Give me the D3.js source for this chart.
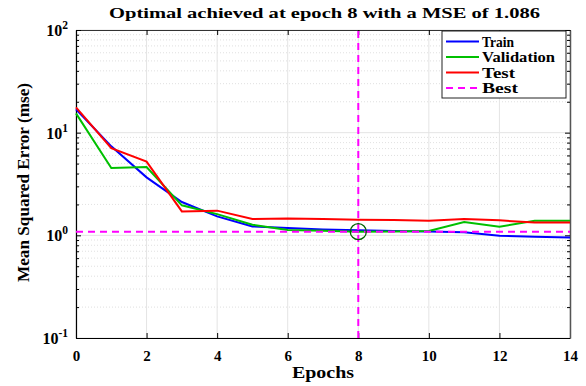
<!DOCTYPE html>
<html>
<head>
<meta charset="utf-8">
<script src="https://d3js.org/d3.v7.min.js"></script>
<style>
  body { margin: 0; background: #fff; }
  text { font-family: "Liberation Serif", "Times New Roman", serif; font-weight: bold; }
</style>
</head>
<body>
<div id="chart"></div>
<script>
var epochs = [0,1,2,3,4,5,6,7,8,9,10,11,12,13,14];
var train = [16.9,7.36,3.67,2.11,1.53,1.22,1.18,1.14,1.12,1.10,1.09,1.07,0.99,0.97,0.955];
var validation = [15.4,4.52,4.62,1.96,1.61,1.27,1.13,1.11,1.086,1.09,1.10,1.35,1.21,1.39,1.39];
var test = [17.6,7.08,5.23,1.71,1.74,1.44,1.46,1.44,1.42,1.41,1.39,1.44,1.40,1.33,1.33];
var bestEpoch = 8, bestMse = 1.086;
var xTicks = [0,2,4,6,8,10,12,14];
var yTicks = [0.1,1,10,100];
var yTickExp = ["-1","0","1","2"];

var width = 586, height = 386;
var m = {left: 76, right: 16, top: 30, bottom: 48};

var svg = d3.select('#chart').append('svg')
  .attr('width', width).attr('height', height);

var x = d3.scaleLinear().domain([0, 14]).range([m.left, width - m.right]);
var y = d3.scaleLog().domain([0.1, 100]).range([height - m.bottom, m.top]);

// minor log ticks
var minor = [];
[0.1, 1, 10].forEach(function(d) { for (var k = 2; k <= 9; k++) minor.push(d * k); });

var grid = svg.append('g');
grid.selectAll('.minor').data(minor).enter().append('line')
  .attr('x1', m.left).attr('x2', width - m.right)
  .attr('y1', function(d) { return y(d); }).attr('y2', function(d) { return y(d); })
  .attr('stroke', '#d8d8d8').attr('stroke-width', 0.8).attr('stroke-dasharray', '1,2');
grid.selectAll('.major').data(yTicks).enter().append('line')
  .attr('x1', m.left).attr('x2', width - m.right)
  .attr('y1', function(d) { return y(d); }).attr('y2', function(d) { return y(d); })
  .attr('stroke', '#e4e4e4').attr('stroke-width', 1);
grid.selectAll('.vx').data(xTicks).enter().append('line')
  .attr('x1', function(d) { return x(d); }).attr('x2', function(d) { return x(d); })
  .attr('y1', m.top).attr('y2', height - m.bottom)
  .attr('stroke', '#e4e4e4').attr('stroke-width', 1);

// axes with inward ticks
var gx = svg.append('g').attr('transform', 'translate(0,' + (height - m.bottom) + ')')
  .call(d3.axisBottom(x).tickValues(xTicks).tickSizeInner(-5).tickSizeOuter(0).tickPadding(12));
gx.select('.domain').attr('stroke', '#000').attr('stroke-width', 1.2);
gx.selectAll('text').attr('font-size', 15).attr('fill', '#000');

var gxt = svg.append('g').attr('transform', 'translate(0,' + m.top + ')')
  .call(d3.axisTop(x).tickValues(xTicks).tickSizeInner(-5).tickSizeOuter(0).tickFormat(''));
gxt.select('.domain').attr('stroke', '#333');

var gy = svg.append('g').attr('transform', 'translate(' + m.left + ',0)')
  .call(d3.axisLeft(y).tickValues(yTicks).tickSizeInner(-5).tickSizeOuter(0).tickFormat(''));
gy.select('.domain').attr('stroke', '#000').attr('stroke-width', 1.2);
svg.append('g').attr('transform', 'translate(' + m.left + ',0)')
  .call(d3.axisLeft(y).tickValues(minor).tickSizeInner(-3).tickSizeOuter(0).tickFormat(''))
  .select('.domain').remove();

var gyr = svg.append('g').attr('transform', 'translate(' + (width - m.right) + ',0)')
  .call(d3.axisRight(y).tickValues(yTicks).tickSizeInner(-5).tickSizeOuter(0).tickFormat(''));
gyr.select('.domain').attr('stroke', '#555').attr('stroke-width', 1.5);
svg.append('g').attr('transform', 'translate(' + (width - m.right) + ',0)')
  .call(d3.axisRight(y).tickValues(minor).tickSizeInner(-3).tickSizeOuter(0).tickFormat(''))
  .select('.domain').remove();

// y tick labels 10^n
var yl = svg.append('g').selectAll('text').data(yTicks).enter().append('text')
  .attr('x', m.left - 8).attr('y', function(d) { return y(d) + 6; })
  .attr('text-anchor', 'end').attr('font-size', 16).attr('fill', '#000');
yl.append('tspan').text('10');
yl.append('tspan').attr('dy', -7).attr('font-size', 11.5)
  .text(function(d, i) { return yTickExp[i]; });

// lines
var line = function(vals) {
  return d3.line().x(function(d, i) { return x(epochs[i]); }).y(function(d) { return y(d); })(vals);
};
var series = [
  {name: 'Train', vals: train, color: '#0000ff'},
  {name: 'Validation', vals: validation, color: '#00c000'},
  {name: 'Test', vals: test, color: '#ff0000'}
];
svg.selectAll('.s').data(series).enter().append('path')
  .attr('d', function(d) { return line(d.vals); })
  .attr('fill', 'none').attr('stroke', function(d) { return d.color; }).attr('stroke-width', 2);

// best lines
svg.append('line').attr('x1', m.left).attr('x2', width - m.right)
  .attr('y1', y(bestMse)).attr('y2', y(bestMse))
  .attr('stroke', '#ff00ff').attr('stroke-width', 2).attr('stroke-dasharray', '7,5');
svg.append('line').attr('x1', x(bestEpoch)).attr('x2', x(bestEpoch))
  .attr('y1', height - m.bottom).attr('y2', m.top)
  .attr('stroke', '#ff00ff').attr('stroke-width', 2).attr('stroke-dasharray', '7,5');
svg.append('circle').attr('cx', x(bestEpoch)).attr('cy', y(bestMse)).attr('r', 8)
  .attr('fill', 'none').attr('stroke', '#006400').attr('stroke-width', 1.3);

// legend
var lg = svg.append('g');
lg.append('rect').attr('x', 442).attr('y', 31).attr('width', 124).attr('height', 67)
  .attr('fill', '#fff').attr('stroke', '#222').attr('stroke-width', 1);
var legendItems = series.concat([{name: 'Best', color: '#ff00ff', dash: '7,5'}]);
var legendLen = [32, 73, 33, 36];
legendItems.forEach(function(d, i) {
  var yy = 41.5 + i * 15.5;
  lg.append('line').attr('x1', 446).attr('x2', 479).attr('y1', yy).attr('y2', yy)
    .attr('stroke', d.color).attr('stroke-width', 2).attr('stroke-dasharray', d.dash || null);
  lg.append('text').attr('x', 482).attr('y', yy + 5).attr('font-size', 14).attr('fill', '#000')
    .attr('textLength', legendLen[i]).attr('lengthAdjust', 'spacingAndGlyphs').text(d.name);
});

// titles
svg.append('text').attr('x', 109).attr('y', 18)
  .attr('font-size', 15.5).attr('fill', '#000')
  .attr('textLength', 431).attr('lengthAdjust', 'spacingAndGlyphs')
  .text('Optimal achieved at epoch 8 with a MSE of 1.086');
svg.append('text').attr('x', 292).attr('y', 378)
  .attr('font-size', 17).attr('fill', '#000')
  .attr('textLength', 62).attr('lengthAdjust', 'spacingAndGlyphs').text('Epochs');
svg.append('text').attr('transform', 'translate(29,282) rotate(-90)')
  .attr('font-size', 17).attr('fill', '#000')
  .attr('textLength', 199).attr('lengthAdjust', 'spacingAndGlyphs').text('Mean Squared Error  (mse)');
</script>
</body>
</html>
